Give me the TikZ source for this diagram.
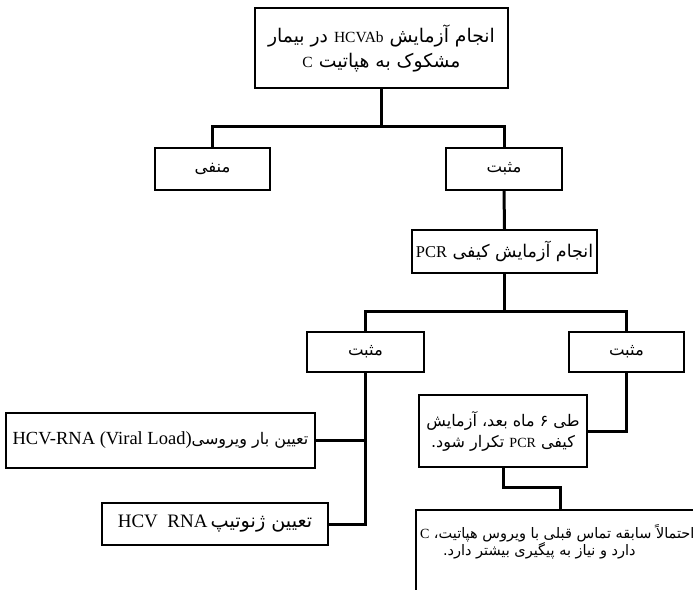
\documentclass[tikz,border=0pt]{standalone}
\usepackage{fontspec}
\usetikzlibrary{calc}
\setmainfont{Liberation Serif}
\newfontfamily\fafont[Script=Arabic]{DejaVu Sans}
\TeXXeTstate=1
\newcommand\lat[2]{{\rmfamily\fontsize{#1}{#1}\selectfont\beginL #2\endL}}
\begin{document}
\begin{tikzpicture}[x=1pt,y=-1pt,
  box/.style={draw,line width=1.6pt,rectangle,inner sep=1pt,align=center},
  link/.style={line width=3pt}]
\useasboundingbox (0,0) rectangle (693,589);
\clip (0,0) rectangle (693,589);
\fill[white] (0,0) rectangle (693,589);
% boxes
\node[box,minimum width=253pt,minimum height=80pt,font=\fafont\fontsize{18.8}{25}\selectfont] (top) at (381.5,48)
  {\beginR انجام آزمایش \lat{15.5}{HCVAb} در بیمار\endR\\ \beginR مشکوک به هپاتیت \lat{15.5}{C}\endR};
\node[box,minimum width=115pt,minimum height=42pt,font=\fafont\fontsize{16.5}{20}\selectfont] (neg) at (212.5,169) {\beginR منفی\endR};
\node[box,minimum width=116pt,minimum height=42pt,font=\fafont\fontsize{16.5}{20}\selectfont] (pos1) at (504,169) {\beginR مثبت\endR};
\node[box,minimum width=185pt,minimum height=43pt,font=\fafont\fontsize{17.5}{20}\selectfont] (pcr) at (504.5,251.5)
  {\beginR انجام آزمایش کیفی \lat{16.5}{PCR}\endR};
\node[box,minimum width=117pt,minimum height=40pt,font=\fafont\fontsize{16.5}{20}\selectfont] (posL) at (365.5,352) {\beginR مثبت\endR};
\node[box,minimum width=115pt,minimum height=40pt,font=\fafont\fontsize{16.5}{20}\selectfont] (posR) at (626.5,352) {\beginR مثبت\endR};
\node[box,minimum width=168pt,minimum height=72pt,font=\fafont\fontsize{16}{21}\selectfont] (mid) at (503,431)
  {\beginR طی ۶ ماه بعد، آزمایش\endR\\ \beginR کیفی \lat{14}{PCR} تکرار شود.\endR};
\node[box,minimum width=309pt,minimum height=55pt,font=\fafont\fontsize{16}{20}\selectfont] (viral) at (160.5,440.5)
  {\beginR تعیین بار ویروسی\lat{18.5}{HCV-RNA (Viral Load)}\endR};
\node[box,minimum width=226pt,minimum height=42pt,font=\fafont\fontsize{19.2}{20}\selectfont] (geno) at (215,524)
  {\beginR تعیین ژنوتیپ\,\lat{19}{HCV\ \ RNA}\endR};
\node[box,minimum width=289pt,minimum height=90pt,inner sep=0pt,font=\fafont\fontsize{14.5}{17}\selectfont] (bot) at (560.5,555)
  {\makebox[281pt][l]{\beginR احتمالاً سابقه تماس قبلی با ویروس هپاتیت، \lat{14}{C}\endR}\\
   \makebox[281pt][l]{\hspace*{23pt}\beginR دارد و نیاز به پیگیری بیشتر دارد.\endR}\\[13pt]\mbox{}};
% connectors
\coordinate (j1) at ($(top.south)+(0,38)$);
\draw[link] (top.south) -- (j1);
\draw[link] (neg.north) |- (j1) -| (pos1.north);
\draw[link] (pos1.south) -- (pcr.north);
\coordinate (j2) at ($(pcr.south)+(0,38)$);
\draw[link] (pcr.south) -- (j2);
\draw[link] (posL.north) |- (j2) -| (posR.north);
\draw[link] (posL.south) |- (geno.east);
\draw[link] (viral.east) -- (viral.east -| posL.south);
\draw[link] (posR.south) |- (mid.east);
\draw[link] (mid.south) -- ++(0,20) -| (bot.north);
\end{tikzpicture}
\end{document}
